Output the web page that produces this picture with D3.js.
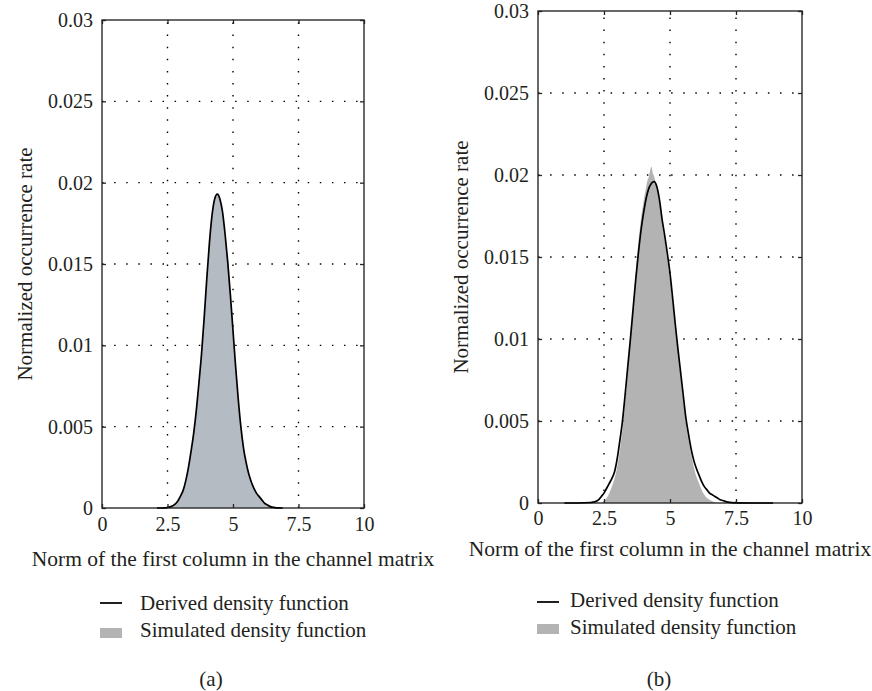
<!DOCTYPE html>
<html>
<head>
<meta charset="utf-8">
<script src="https://cdn.jsdelivr.net/npm/d3@7"></script>
<style>
  body { margin: 0; background: #fff; }
  svg { display: block; }
</style>
</head>
<body>
<svg id="fig" width="872" height="691"></svg>
<script>
// Axis ticks shared by both panels
const xTickValues = [0, 2.5, 5, 7.5, 10];
const xTickLabels = ["0", "2.5", "5", "7.5", "10"];
const yTickValues = [0, 0.005, 0.01, 0.015, 0.02, 0.025, 0.03];
const yTickLabels = ["0", "0.005", "0.01", "0.015", "0.02", "0.025", "0.03"];

const xTitle = "Norm of the first column in the channel matrix";
const yTitle = "Normalized occurrence rate";
const legendLabels = ["Derived density function", "Simulated density function"];
const captions = ["(a)", "(b)"];

// Panel (a): derived density and simulated density
const normA = [2.1, 2.2, 2.3, 2.4, 2.5, 2.6, 2.7, 2.8, 2.9, 3.0,
               3.1, 3.2, 3.3, 3.4, 3.5, 3.6, 3.7, 3.8, 3.9, 4.0,
               4.1, 4.2, 4.3, 4.4, 4.5, 4.6, 4.7, 4.8, 4.9, 5.0,
               5.1, 5.2, 5.3, 5.4, 5.5, 5.6, 5.7, 5.8, 5.9, 6.0,
               6.1, 6.2, 6.3, 6.4, 6.5, 6.6, 6.7, 6.8, 6.9];
const derivedA = [0, 0, 0, 0.00001, 0.00003, 0.00007, 0.00014, 0.00025, 0.00045, 0.00075,
                  0.0011, 0.0017, 0.0025, 0.0035, 0.0046, 0.0060, 0.0077, 0.0095, 0.0117, 0.0141,
                  0.0163, 0.0180, 0.0190, 0.0193, 0.0190, 0.0182, 0.0168, 0.0151, 0.0131, 0.0109,
                  0.0087, 0.0067, 0.0050, 0.0037, 0.0028, 0.0021, 0.0016, 0.0012, 0.0009, 0.0007,
                  0.0005, 0.0003, 0.0002, 0.0001, 0.00005, 0.00002, 0.00001, 0, 0];
const simulatedA = [0, 0, 0, 0.00001, 0.00003, 0.00007, 0.00014, 0.00025, 0.00045, 0.00075,
                    0.0011, 0.0017, 0.0025, 0.0035, 0.0046, 0.0060, 0.0077, 0.0095, 0.0117, 0.0141,
                    0.0163, 0.0180, 0.0190, 0.0193, 0.0190, 0.0182, 0.0168, 0.0151, 0.0131, 0.0109,
                    0.0087, 0.0067, 0.0050, 0.0037, 0.0028, 0.0021, 0.0016, 0.0012, 0.0009, 0.0007,
                    0.0005, 0.0003, 0.0002, 0.0001, 0.00005, 0.00002, 0.00001, 0, 0];

// Panel (b): derived density curve
const normB = [1.0, 1.5, 2.0, 2.1, 2.2, 2.3, 2.4, 2.5, 2.6, 2.7, 2.8, 2.9,
               3.0, 3.1, 3.2, 3.3, 3.4, 3.5, 3.6, 3.7, 3.8, 3.9,
               4.0, 4.1, 4.2, 4.3, 4.4, 4.5, 4.6, 4.7, 4.8, 4.9,
               5.0, 5.1, 5.2, 5.3, 5.4, 5.5, 5.6, 5.7, 5.8, 5.9,
               6.0, 6.1, 6.2, 6.3, 6.4, 6.5, 6.6, 6.7, 6.8, 6.9,
               7.0, 7.2, 7.5, 8.0, 8.9];
const derivedB = [0, 0, 0.00003, 0.00006, 0.0001, 0.0002, 0.0004, 0.0006, 0.0009, 0.0012, 0.0015, 0.0019,
                  0.0027, 0.0038, 0.0050, 0.0066, 0.0083, 0.0100, 0.0118, 0.0136, 0.0152, 0.0166,
                  0.0177, 0.0186, 0.0192, 0.0195, 0.0196, 0.0193, 0.0185, 0.0173, 0.0163, 0.0152,
                  0.0140, 0.0125, 0.0109, 0.0094, 0.0080, 0.0066, 0.0052, 0.0042, 0.0033, 0.0026,
                  0.0021, 0.0017, 0.0013, 0.0010, 0.0008, 0.0006, 0.0005, 0.0004, 0.0003, 0.0002,
                  0.00015, 0.00005, 0.00001, 0, 0];

// Panel (b): simulated histogram
const normBSim = [2.4, 2.5, 2.6, 2.7, 2.8, 2.9, 3.0, 3.1, 3.2, 3.3, 3.4, 3.5, 3.6, 3.7, 3.8, 3.9,
                  4.0, 4.1, 4.15, 4.2, 4.25, 4.3, 4.35, 4.4, 4.5, 4.6, 4.7, 4.8, 4.9,
                  5.0, 5.1, 5.2, 5.3, 5.4, 5.5, 5.6, 5.7, 5.8, 5.9,
                  6.0, 6.1, 6.2, 6.3, 6.4, 6.5, 6.6, 6.7, 6.8];
const simulatedB = [0, 0.0001, 0.0003, 0.0006, 0.0010, 0.0015, 0.0022, 0.0032, 0.0045, 0.0061, 0.0079, 0.0099, 0.0119, 0.0140, 0.0158, 0.0173,
                    0.0184, 0.0193, 0.0197, 0.0199, 0.0203, 0.0205, 0.0201, 0.0199, 0.0192, 0.0183, 0.0171, 0.0160, 0.0148,
                    0.0136, 0.0122, 0.0107, 0.0092, 0.0077, 0.0063, 0.0049, 0.0039, 0.0030, 0.0022,
                    0.0016, 0.0012, 0.0008, 0.0005, 0.0003, 0.0002, 0.0001, 0.00005, 0];

const ink = "#231f20";
const fontFamily = "'Liberation Serif', 'Times New Roman', 'DejaVu Serif', serif";

const svg = d3.select("#fig").style("font-family", fontFamily);

const panels = [
  {
    frame: { left: 102, right: 364, top: 20, bottom: 508 },
    yTitleX: 32, xTitleY: 566,
    legend: { markX: 100, textX: 140, lineY: 603, boxY: 628, textY1: 610, textY2: 637 },
    captionX: 211, captionY: 686,
    fillColor: "#b5bbc3",
    sim: { x: normA, y: simulatedA },
    der: { x: normA, y: derivedA }
  },
  {
    frame: { left: 538, right: 802, top: 11, bottom: 503 },
    yTitleX: 468, xTitleY: 556,
    legend: { markX: 537, textX: 570, lineY: 602, boxY: 624, textY1: 607, textY2: 634 },
    captionX: 659, captionY: 686,
    fillColor: "#b3b3b3",
    sim: { x: normBSim, y: simulatedB },
    der: { x: normB, y: derivedB }
  }
];

panels.forEach((p, idx) => {
  const f = p.frame;
  const x = d3.scaleLinear().domain([0, 10]).range([f.left, f.right]);
  const y = d3.scaleLinear().domain([0, 0.03]).range([f.bottom, f.top]);
  const g = svg.append("g");

  // dotted grid
  const grid = g.append("g")
    .attr("stroke", "#000")
    .attr("stroke-width", 1.4)
    .attr("stroke-dasharray", "1.5,10.6");
  grid.selectAll("line.v").data(xTickValues.slice(1, -1)).join("line")
    .attr("class", "v")
    .attr("x1", d => x(d)).attr("x2", d => x(d))
    .attr("y1", y(0)).attr("y2", y(0.03));
  grid.selectAll("line.h").data(yTickValues.slice(1, -1)).join("line")
    .attr("class", "h")
    .attr("x1", x(0)).attr("x2", x(10))
    .attr("y1", d => y(d)).attr("y2", d => y(d));

  // simulated density (filled)
  const simPts = p.sim.x.map((v, i) => [v, p.sim.y[i]]);
  g.append("path")
    .datum(simPts)
    .attr("fill", p.fillColor)
    .attr("d", d3.area()
      .x(d => x(d[0]))
      .y0(y(0))
      .y1(d => y(d[1]))
      .curve(d3.curveMonotoneX));

  // frame
  g.append("rect")
    .attr("x", f.left).attr("y", f.top)
    .attr("width", f.right - f.left).attr("height", f.bottom - f.top)
    .attr("fill", "none")
    .attr("stroke", "#2a2a2a")
    .attr("stroke-width", 1.4);

  // derived density curve
  const derPts = p.der.x.map((v, i) => [v, p.der.y[i]]);
  g.append("path")
    .datum(derPts)
    .attr("fill", "none")
    .attr("stroke", "#000")
    .attr("stroke-width", 1.7)
    .attr("stroke-linejoin", "round")
    .attr("d", d3.line()
      .x(d => x(d[0]))
      .y(d => y(d[1]))
      .curve(d3.curveMonotoneX));

  // axes with inward ticks
  const styleAxis = sel => {
    sel.select(".domain").remove();
    sel.selectAll(".tick line").attr("stroke", "#222").attr("stroke-width", 1.3);
    sel.selectAll("text")
      .attr("fill", ink)
      .style("font-family", fontFamily)
      .style("font-size", "20px");
  };
  g.append("g")
    .attr("transform", `translate(0,${f.bottom})`)
    .call(d3.axisBottom(x).tickValues(xTickValues)
      .tickFormat((d, i) => xTickLabels[i]).tickSize(-4).tickPadding(idx === 0 ? 9 : 8))
    .call(styleAxis)
    .attr("font-size", null).attr("font-family", null);
  g.append("g")
    .attr("transform", `translate(0,${f.top})`)
    .call(d3.axisTop(x).tickValues(xTickValues).tickFormat("").tickSize(-4))
    .call(styleAxis);
  g.append("g")
    .attr("transform", `translate(${f.left},0)`)
    .call(d3.axisLeft(y).tickValues(yTickValues)
      .tickFormat((d, i) => yTickLabels[i]).tickSize(-4).tickPadding(9))
    .call(styleAxis)
    .attr("font-size", null).attr("font-family", null);
  g.append("g")
    .attr("transform", `translate(${f.right},0)`)
    .call(d3.axisRight(y).tickValues(yTickValues).tickFormat("").tickSize(-4))
    .call(styleAxis);

  // axis titles
  g.append("text")
    .attr("transform", `translate(${p.yTitleX},${(f.top + f.bottom) / 2}) rotate(-90)`)
    .attr("text-anchor", "middle")
    .attr("fill", ink)
    .style("font-size", "21px")
    .text(yTitle);
  g.append("text")
    .attr("x", (f.left + f.right) / 2)
    .attr("y", p.xTitleY)
    .attr("text-anchor", "middle")
    .attr("fill", ink)
    .style("font-size", "21.5px")
    .text(xTitle);

  // legend
  const L = p.legend;
  g.append("line")
    .attr("x1", L.markX).attr("x2", L.markX + 22)
    .attr("y1", L.lineY).attr("y2", L.lineY)
    .attr("stroke", ink).attr("stroke-width", 2);
  g.append("rect")
    .attr("x", L.markX).attr("y", L.boxY)
    .attr("width", 22).attr("height", 10)
    .attr("fill", "#b3b3b3");
  g.append("text")
    .attr("x", L.textX).attr("y", L.textY1)
    .attr("fill", ink).style("font-size", "21px")
    .text(legendLabels[0]);
  g.append("text")
    .attr("x", L.textX).attr("y", L.textY2)
    .attr("fill", ink).style("font-size", "21px")
    .text(legendLabels[1]);

  // caption
  g.append("text")
    .attr("x", p.captionX).attr("y", p.captionY)
    .attr("text-anchor", "middle")
    .attr("fill", ink).style("font-size", "21px")
    .text(captions[idx]);
});
</script>
</body>
</html>
